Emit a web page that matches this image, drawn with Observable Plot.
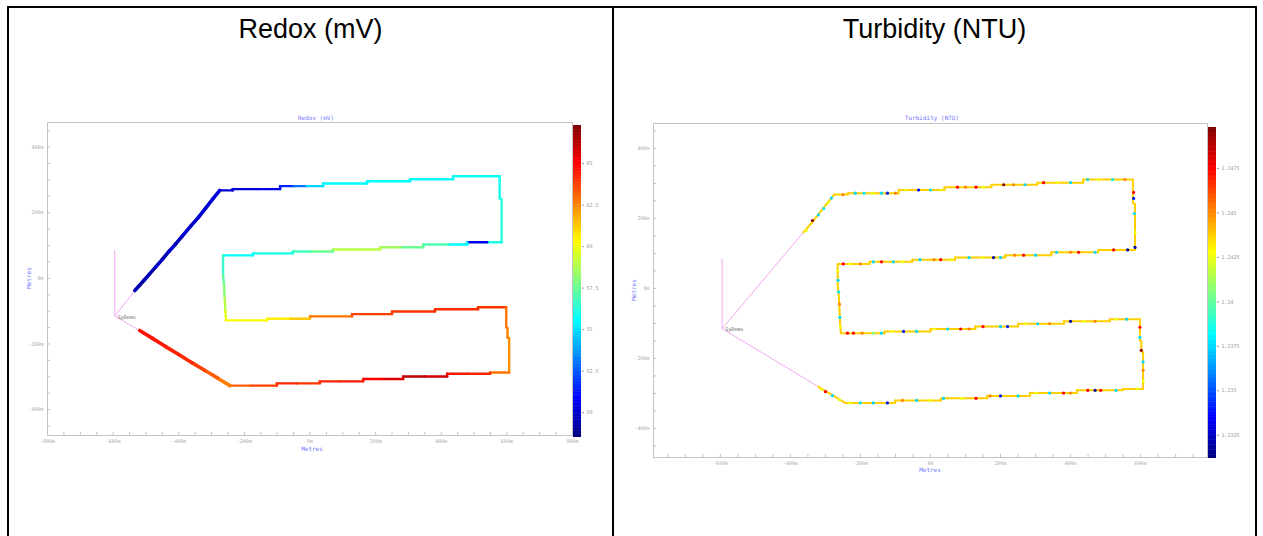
<!DOCTYPE html>
<html><head><meta charset="utf-8">
<script src="https://cdn.jsdelivr.net/npm/d3@7"></script>
<script src="https://cdn.jsdelivr.net/npm/@observablehq/plot@0.6"></script>
<style>
body{margin:0;width:1263px;height:536px;overflow:hidden;background:#fff;font-family:"Liberation Sans",Arial,sans-serif;position:relative}
.abs{position:absolute}
.title{position:absolute;top:13px;font-size:27px;color:#000;text-align:center;line-height:32px}
.small{position:absolute;font-family:"DejaVu Sans Mono",monospace;font-size:6px;color:#7777ff;white-space:nowrap;transform:translate(-50%,0)}
.ylab{position:absolute;font-family:"DejaVu Sans Mono",monospace;font-size:6px;color:#7777ff;white-space:nowrap;transform:translate(-50%,-50%) rotate(-90deg)}
</style></head><body>
<div class="abs" style="left:7px;top:6px;width:1246px;height:600px;border:2px solid #000"></div>
<div class="abs" style="left:612px;top:6px;width:2px;height:600px;background:#000"></div>
<div class="title" style="left:9px;width:603px">Redox (mV)</div>
<div class="title" style="left:614px;width:641px">Turbidity (NTU)</div>
<div class="small" style="left:316px;top:114px">Redox (mV)</div>
<div class="small" style="left:932px;top:114px">Turbidity (NTU)</div>
<div class="small" style="left:312px;top:445px">Metres</div>
<div class="small" style="left:930px;top:466px">Metres</div>
<div class="ylab" style="left:28px;top:278px">Metres</div>
<div class="ylab" style="left:633px;top:290px">Metres</div>
<div id="p1" class="abs" style="left:17px;top:107px"></div>
<div id="c1" class="abs" style="left:573px;top:125px"></div>
<div id="p2" class="abs" style="left:623px;top:108px"></div>
<div id="c2" class="abs" style="left:1208px;top:127px"></div>
<script>
// ---- data (metres) ----
const route = [
  [-534,-37],[-520,-22],[-505,-5],[-490,12],[-470,35],[-450,58],[-430,82],[-410,104],[-390,128],[-363,160],[-340,186],[-318,214],[-296,242],[-275,268],
  [-236,268],[-236,272],[-160,272],[-91,272],[-91,281],[-50,281],[-10,281],[40,281],[40,289],[174,289],[174,296],[305,296],[305,302],[436,302],[436,311],[578,311],
  [578,244],[584,240],[584,110],
  [540,110],[479,110],[479,103],[420,103],[345,103],[345,95],[275,95],[214,95],[214,88],[150,88],[70,88],[70,82],[0,82],[-52,82],[-52,76],[-174,76],[-174,70],[-265,70],
  [-265,10],[-262,-20],[-260,-60],[-258,-100],[-256,-128],
  [-131,-128],[-131,-123],[-60,-123],[0,-123],[0,-116],[128,-116],[128,-109],[250,-109],[250,-101],[381,-101],[381,-94],[512,-94],[512,-88],[598,-88],
  [598,-149],[602,-152],[602,-180],[607,-183],[607,-287],
  [549,-287],[549,-291],[480,-291],[418,-291],[418,-299],[350,-299],[284,-299],[284,-307],[220,-307],[162,-307],[162,-314],[90,-314],[30,-314],[30,-320],[-40,-320],[-101,-320],[-101,-327],[-180,-327],[-244,-327],
  [-280,-305],[-320,-281],[-360,-257],[-400,-232],[-440,-208],[-480,-183],[-519,-159]
];
const redox = [
  49.3,49.5,49.2,49.6,49.4,49.8,49.5,49.9,49.6,50.0,49.8,50.1,50.0,50.2,
  50.0,50.0,50.2,50.5,50.8,51.5,53.0,54.8,55.2,55.5,55.5,55.6,55.6,55.7,55.7,55.8,
  55.8,56.0,56.3,
  56.0,50.5,55.5,55.5,57.0,57.2,57.5,58.5,58.8,59.0,59.0,58.5,57.5,56.8,56.5,56.0,55.8,55.6,
  56.5,57.3,58.0,59.0,59.8,
  60.2,60.3,60.5,61.2,61.5,62.8,63.2,63.8,63.9,64.0,64.0,64.2,64.2,64.0,
  62.8,62.8,62.5,62.5,62.3,
  62.8,63.5,64.3,64.5,65.0,65.8,66.2,65.8,65.5,65.0,64.8,64.5,64.3,64.2,64.0,64.2,64.0,63.8,63.2,
  62.6,63.2,63.8,64.2,64.4,64.5,64.6
];
const startPoint = [-595,-115];
const startLabel = "SyDemo";
const redoxPinkEnds = [[-595,85],[-534,-37],[-519,-159]];
const turbPinkEnds = [[-595,85],[-363,160],[-320,-281]];
const turbFirst = [-363,160];
const turbLast = [-320,-281];
const turbBase = 1.2437;
const turbSpots = [
  [-355,166,1.2425],[-337,194,1.2495],[-320,210,1.2375],[-305,228,1.2378],[-292,246,1.2425],[-283,258,1.2375],
  [-250,268,1.245],[-215,272,1.2375],[-190,272,1.2378],[-165,272,1.2425],[-140,272,1.2375],[-123,272,1.234],[-100,272,1.245],
  [-70,281,1.2425],[-34,281,1.2335],[0,281,1.2375],[30,281,1.2425],[77,289,1.2475],[100,289,1.245],[130,289,1.2475],[151,289,1.2425],
  [209,296,1.2495],[237,296,1.245],[270,296,1.2375],[323,302,1.2475],[360,302,1.2425],[400,302,1.2375],[449,311,1.2375],[480,311,1.2425],[520,311,1.2378],[555,311,1.245],
  [580,274,1.2475],[580,257,1.234],[582,214,1.2375],[584,160,1.2425],[584,117,1.2318],
  [563,110,1.2318],[523,110,1.2475],[470,103,1.2375],[423,103,1.2475],[400,103,1.245],[360,103,1.2375],[300,95,1.2375],[266,95,1.2475],[240,95,1.245],
  [200,88,1.2375],[180,88,1.2318],[150,88,1.2425],[110,88,1.2375],[60,82,1.2425],[29,82,1.2475],[10,82,1.245],[-30,82,1.2375],
  [-80,76,1.2425],[-106,76,1.2375],[-140,76,1.2475],[-163,76,1.2375],[-200,70,1.245],[-230,70,1.2425],[-249,70,1.2475],
  [-265,50,1.2425],[-264,23,1.2375],[-262,-10,1.2378],[-260,-45,1.245],[-259,-83,1.2375],[-257,-110,1.2425],
  [-237,-128,1.2475],[-220,-128,1.2475],[-195,-128,1.245],[-163,-128,1.2405],[-140,-128,1.2375],[-110,-123,1.2425],[-77,-123,1.234],[-40,-123,1.2375],
  [10,-116,1.2425],[49,-116,1.2375],[86,-116,1.2475],[110,-116,1.245],[150,-109,1.2475],[200,-109,1.2375],[220,-109,1.234],
  [270,-101,1.2425],[306,-101,1.2375],[340,-101,1.245],[400,-94,1.2318],[440,-94,1.2425],[470,-94,1.245],[530,-88,1.2425],[560,-88,1.2375],
  [598,-111,1.2475],[598,-140,1.2375],[602,-177,1.2495],[607,-210,1.2375],[607,-234,1.245],[607,-265,1.2425],
  [590,-287,1.2425],[530,-291,1.2375],[486,-291,1.2475],[470,-291,1.2318],[449,-291,1.2475],[400,-299,1.245],[380,-299,1.2475],[340,-299,1.2375],[300,-299,1.2425],
  [250,-307,1.2375],[200,-307,1.234],[170,-307,1.245],[130,-314,1.2475],[90,-314,1.2425],[37,-314,1.2375],[0,-320,1.2425],[-40,-320,1.2375],[-80,-320,1.245],
  [-123,-327,1.234],[-163,-327,1.2375],[-200,-327,1.2378],[-230,-327,1.2425],
  [-260,-318,1.2425],[-280,-306,1.2375],[-300,-295,1.2475],[-312,-288,1.2425]
];
const xTickValues = [-800,-600,-400,-200,0,200,400,600,800];
const yTickValues = [-400,-200,0,200,400];
const redoxTicks = [50,52.5,55,57.5,60,62.5,65];
const turbTicks = [1.2325,1.235,1.2375,1.24,1.2425,1.245,1.2475];
const redoxDomain = [48.5,67.3];
const turbDomain = [1.2312,1.2498];

// ---- rendering ----
const jetColors = ["#00007f","#0000ff","#007fff","#00ffff","#7fff7f","#ffff00","#ff7f00","#ff0000","#7f0000"];
const jet = d3.piecewise(d3.interpolateRgb, jetColors);
const fmtM = d => d + "m";
const pink = "#f0a8f0";

function segmentsOf(pts, vals) {
  const out = [];
  for (let i = 1; i < pts.length; i++) {
    const a = pts[i-1], b = pts[i];
    out.push({x1:a[0], y1:a[1], x2:b[0], y2:b[1], v: vals ? vals[i] : null,
      diag: Math.abs(b[0]-a[0]) > 8 && Math.abs(b[1]-a[1]) > 8});
  }
  return out;
}

function panel({xDomain, yDomain, w, h, colorDomain, marks}) {
  const mL = 30, mT = 15, mB = 12, mR = 1;
  const xMinor = d3.range(-750, 751, 50).filter(v => v > xDomain[0] && v < xDomain[1]);
  const yMinor = d3.range(-450, 451, 50).filter(v => v > yDomain[0] && v < yDomain[1]);
  const mPerPxY = (yDomain[1]-yDomain[0]) / h;
  const mPerPxX = (xDomain[1]-xDomain[0]) / w;
  return Plot.plot({
    width: w + mL + mR, height: h + mT + mB,
    marginLeft: mL, marginTop: mT, marginBottom: mB, marginRight: mR,
    style: {fontSize: "5px", fontFamily: "DejaVu Sans Mono, monospace", color: "#aaa", background: "transparent", overflow: "visible"},
    x: {domain: xDomain, ticks: xTickValues.filter(v => v >= xDomain[0]-1 && v <= xDomain[1]+1), tickFormat: fmtM, tickSize: 0, tickPadding: 4, label: null},
    y: {domain: yDomain, ticks: yTickValues, tickFormat: fmtM, tickSize: 0, tickPadding: 4, label: null},
    color: {type: "linear", domain: colorDomain, interpolate: jet},
    marks: [
      Plot.frame({stroke: "#c4c4c4", strokeWidth: 1}),
      Plot.ruleX(xMinor, {x: d => d, y1: yDomain[0], y2: yDomain[0] + 3*mPerPxY, stroke: "#aaa", strokeWidth: 0.7}),
      Plot.ruleY(yMinor, {y: d => d, x1: xDomain[0], x2: xDomain[0] + 3*mPerPxX, stroke: "#aaa", strokeWidth: 0.7}),
      ...marks
    ]
  });
}

function colorbar({h, domain, ticks, fmt}) {
  const step = (domain[1]-domain[0]) / 200;
  const slices = d3.range(domain[0], domain[1], step);
  return Plot.plot({
    width: 8 + 36, height: h,
    marginLeft: 0, marginRight: 36, marginTop: 0, marginBottom: 0,
    style: {fontSize: "5px", fontFamily: "DejaVu Sans Mono, monospace", color: "#999", background: "transparent", overflow: "visible"},
    x: {domain: [0,1], axis: null},
    y: {domain, ticks, tickFormat: fmt, tickSize: 2, tickPadding: 3, label: null, axis: "right"},
    color: {type: "linear", domain, interpolate: jet},
    marks: [
      Plot.rect(slices, {x1: 0, x2: 1, y1: d => d, y2: d => Math.min(domain[1], d + step*1.3), fill: d => d + step/2})
    ]
  });
}

// Redox panel
const redoxSegs = segmentsOf(route, redox);
const pinkRedox = redoxPinkEnds.map(e => ({x1: startPoint[0], y1: startPoint[1], x2: e[0], y2: e[1]}));
document.getElementById("p1").append(panel({
  xDomain: [-800, 800], yDomain: [-479, 475], w: 525, h: 313, colorDomain: redoxDomain,
  marks: [
    Plot.link(pinkRedox, {x1: "x1", y1: "y1", x2: "x2", y2: "y2", stroke: pink, strokeWidth: 1}),
    Plot.link(redoxSegs, {x1: "x1", y1: "y1", x2: "x2", y2: "y2", stroke: "v", strokeWidth: d => d.diag ? 3.6 : 2.4, strokeLinecap: "round"}),
    Plot.text([startPoint], {x: d => d[0], y: d => d[1], text: () => startLabel, dx: 3, dy: 1, textAnchor: "start", fill: "#666", fontSize: 5})
  ]
}));
document.getElementById("c1").append(colorbar({h: 312, domain: redoxDomain, ticks: redoxTicks, fmt: d => String(d)}));

// Turbidity panel
const iFirst = route.findIndex(p => p[0] === turbFirst[0] && p[1] === turbFirst[1]);
const iLast = route.findIndex(p => p[0] === turbLast[0] && p[1] === turbLast[1]);
const turbRoute = route.slice(iFirst, iLast + 1);
const turbSegs = segmentsOf(turbRoute, null);
const pinkTurb = turbPinkEnds.map(e => ({x1: startPoint[0], y1: startPoint[1], x2: e[0], y2: e[1]}));
document.getElementById("p2").append(panel({
  xDomain: [-791, 791], yDomain: [-483, 471], w: 554, h: 334, colorDomain: turbDomain,
  marks: [
    Plot.link(pinkTurb, {x1: "x1", y1: "y1", x2: "x2", y2: "y2", stroke: pink, strokeWidth: 1}),
    Plot.link(turbSegs, {x1: "x1", y1: "y1", x2: "x2", y2: "y2", stroke: () => turbBase, strokeWidth: 2, strokeLinecap: "round"}),
    Plot.dot(turbSpots, {x: d => d[0], y: d => d[1], fill: d => d[2], r: 1.6, stroke: null}),
    Plot.text([startPoint], {x: d => d[0], y: d => d[1], text: () => startLabel, dx: 3, dy: 1, textAnchor: "start", fill: "#666", fontSize: 5})
  ]
}));
document.getElementById("c2").append(colorbar({h: 331, domain: turbDomain, ticks: turbTicks, fmt: d => String(+d.toFixed(4))}));
</script>
</body></html>
